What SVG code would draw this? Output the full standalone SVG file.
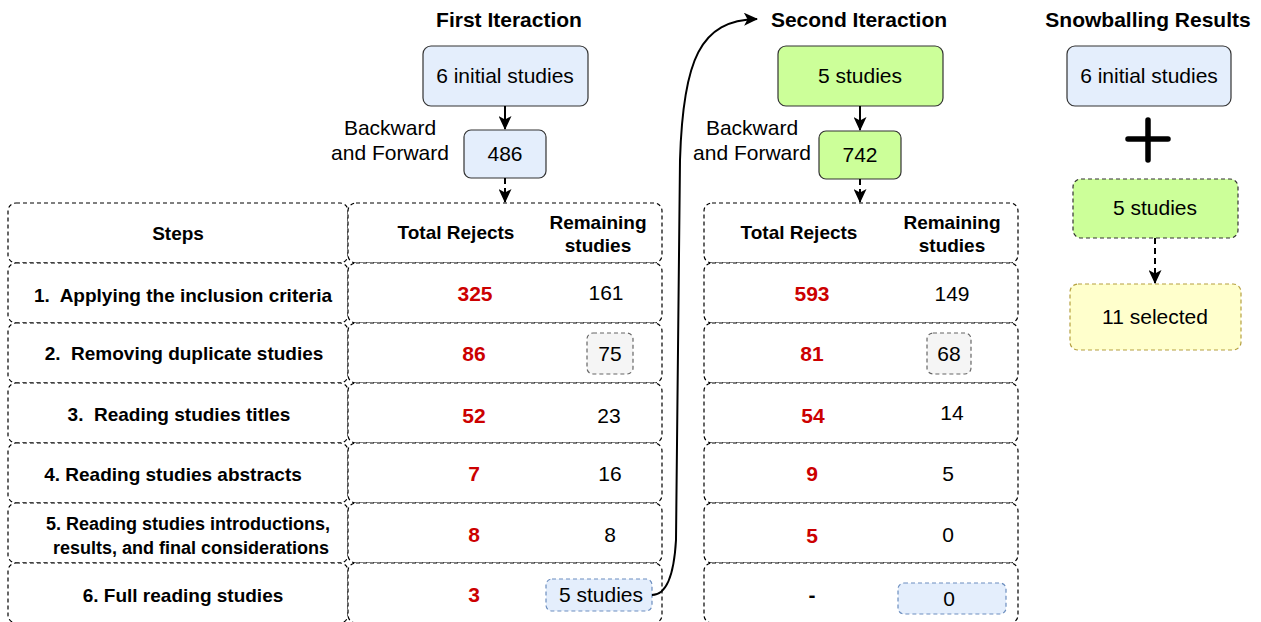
<svg xmlns="http://www.w3.org/2000/svg" width="1261" height="622" viewBox="0 0 1261 622">
  <defs>
    <marker id="arrow" markerUnits="userSpaceOnUse" markerWidth="15" markerHeight="13" refX="13" refY="6.5" orient="auto">
      <path d="M0,0 L14,6.5 L0,13 L3.5,6.5 Z" fill="#000"/>
    </marker>
    <style>
      text { font-family: "Liberation Sans", Arial, Helvetica, sans-serif; fill: #000; }
      .title { font-size: 21px; font-weight: bold; text-anchor: middle; }
      .lbl { font-size: 21px; text-anchor: middle; }
      .step { font-size: 19px; font-weight: bold; text-anchor: middle; }
      .hdr { font-size: 19px; font-weight: bold; text-anchor: middle; }
      .rej { font-size: 21px; font-weight: bold; fill: #cc0000; text-anchor: middle; }
      .num { font-size: 21px; text-anchor: middle; }
      .cell { fill: #fff; stroke: #000; stroke-width: 1.2; stroke-dasharray: 4 3; }
      .blue { fill: #e4eefc; stroke: #333; stroke-width: 1.2; }
      .green { fill: #ccff99; stroke: #333; stroke-width: 1.2; }
      .greenD { fill: #ccff99; stroke: #333; stroke-width: 1.2; stroke-dasharray: 4 3; }
      .yellowD { fill: #ffffcc; stroke: #b5a040; stroke-width: 1.2; stroke-dasharray: 4 3; }
      .greyD { fill: #f5f5f5; stroke: #666; stroke-width: 1.2; stroke-dasharray: 4 3; }
      .blueD { fill: #e4eefc; stroke: #6c8ebf; stroke-width: 1.2; stroke-dasharray: 4 3; }
      .edge { fill: none; stroke: #000; stroke-width: 2; }
      .edgeD { fill: none; stroke: #000; stroke-width: 2; stroke-dasharray: 6 4; }
    </style>
  </defs>

  <!-- column titles -->
  <text class="title" x="509" y="27">First Iteraction</text>
  <text class="title" x="859" y="27">Second Iteraction</text>
  <text class="title" x="1148" y="27">Snowballing Results</text>

  <!-- first iteration header nodes -->
  <g id="first-initial">
    <rect class="blue" x="423" y="46" width="165" height="60" rx="8"/>
    <text class="lbl" x="505" y="83">6 initial studies</text>
  </g>
  <g id="first-found">
    <rect class="blue" x="464" y="130" width="82" height="48" rx="7"/>
    <text class="lbl" x="505" y="161">486</text>
  </g>
  <g id="first-label">
    <text class="lbl" x="390" y="135">Backward</text>
    <text class="lbl" x="390" y="160">and Forward</text>
  </g>

  <!-- second iteration header nodes -->
  <g id="second-initial">
    <rect class="green" x="778" y="46" width="165" height="60" rx="8"/>
    <text class="lbl" x="860" y="83">5 studies</text>
  </g>
  <g id="second-found">
    <rect class="green" x="819" y="131" width="82" height="48" rx="7"/>
    <text class="lbl" x="860" y="162">742</text>
  </g>
  <g id="second-label">
    <text class="lbl" x="752" y="135">Backward</text>
    <text class="lbl" x="752" y="160">and Forward</text>
  </g>

  <!-- snowballing results -->
  <g id="result-initial">
    <rect class="blue" x="1067" y="46" width="164" height="60" rx="8"/>
    <text class="lbl" x="1149" y="83">6 initial studies</text>
  </g>
  <g id="result-plus">
    <path d="M1128,139 H1168 M1148,120 V160" stroke="#000" stroke-width="5.5" stroke-linecap="round" fill="none"/>
  </g>
  <g id="result-second">
    <rect class="greenD" x="1073" y="179" width="165" height="59" rx="8"/>
    <text class="lbl" x="1155" y="215">5 studies</text>
  </g>
  <g id="result-selected">
    <rect class="yellowD" x="1070" y="284" width="171" height="66" rx="8"/>
    <text class="lbl" x="1155" y="324">11 selected</text>
  </g>

  <!-- steps column -->
  <g id="steps">
    <rect class="cell" x="8" y="203" width="340" height="60" rx="8"/>
    <rect class="cell" x="8" y="263" width="340" height="60" rx="8"/>
    <rect class="cell" x="8" y="323" width="340" height="60" rx="8"/>
    <rect class="cell" x="8" y="383" width="340" height="60" rx="8"/>
    <rect class="cell" x="8" y="443" width="340" height="60" rx="8"/>
    <rect class="cell" x="8" y="503" width="340" height="60" rx="8"/>
    <rect class="cell" x="8" y="563" width="340" height="60" rx="8"/>
    <text class="step" x="178" y="240">Steps</text>
    <text class="step" x="183" y="302" xml:space="preserve">1.  Applying the inclusion criteria</text>
    <text class="step" x="184" y="360" xml:space="preserve">2.  Removing duplicate studies</text>
    <text class="step" x="179" y="421" xml:space="preserve">3.  Reading studies titles</text>
    <text class="step" x="173" y="481">4. Reading studies abstracts</text>
    <text class="step" x="188" y="530" style="font-size:18px">5. Reading studies introductions,</text>
    <text class="step" x="191" y="554" style="font-size:18px">results, and final considerations</text>
    <text class="step" x="183" y="602">6. Full reading studies</text>
  </g>

  <!-- first iteration table -->
  <g id="first-table">
    <rect class="cell" x="348" y="203" width="314" height="60" rx="8"/>
    <rect class="cell" x="348" y="263" width="314" height="60" rx="8"/>
    <rect class="cell" x="348" y="323" width="314" height="60" rx="8"/>
    <rect class="cell" x="348" y="383" width="314" height="60" rx="8"/>
    <rect class="cell" x="348" y="443" width="314" height="60" rx="8"/>
    <rect class="cell" x="348" y="503" width="314" height="60" rx="8"/>
    <rect class="cell" x="348" y="563" width="314" height="60" rx="8"/>
    <text class="hdr" x="456" y="239">Total Rejects</text>
    <text class="hdr" x="598" y="229">Remaining</text>
    <text class="hdr" x="598" y="252">studies</text>
    <text class="rej" x="475" y="301">325</text>
    <text class="num" x="606" y="300">161</text>
    <text class="rej" x="474" y="361">86</text>
    <rect class="greyD" x="587" y="333" width="46" height="41" rx="6"/>
    <text class="num" x="610" y="361">75</text>
    <text class="rej" x="474" y="423">52</text>
    <text class="num" x="609" y="423">23</text>
    <text class="rej" x="474" y="481">7</text>
    <text class="num" x="610" y="481">16</text>
    <text class="rej" x="474" y="542">8</text>
    <text class="num" x="610" y="542">8</text>
    <text class="rej" x="474" y="602">3</text>
    <rect class="blueD" x="546" y="579" width="106" height="32" rx="6"/>
    <text class="num" x="601" y="602">5 studies</text>
  </g>

  <!-- second iteration table -->
  <g id="second-table">
    <rect class="cell" x="704" y="203" width="314" height="60" rx="8"/>
    <rect class="cell" x="704" y="263" width="314" height="60" rx="8"/>
    <rect class="cell" x="704" y="323" width="314" height="60" rx="8"/>
    <rect class="cell" x="704" y="383" width="314" height="60" rx="8"/>
    <rect class="cell" x="704" y="443" width="314" height="60" rx="8"/>
    <rect class="cell" x="704" y="503" width="314" height="60" rx="8"/>
    <rect class="cell" x="704" y="563" width="314" height="60" rx="8"/>
    <text class="hdr" x="799" y="239">Total Rejects</text>
    <text class="hdr" x="952" y="229">Remaining</text>
    <text class="hdr" x="952" y="252">studies</text>
    <text class="rej" x="812" y="301">593</text>
    <text class="num" x="952" y="301">149</text>
    <text class="rej" x="812" y="361">81</text>
    <rect class="greyD" x="927" y="333" width="44" height="41" rx="6"/>
    <text class="num" x="949" y="361">68</text>
    <text class="rej" x="813" y="423">54</text>
    <text class="num" x="952" y="420">14</text>
    <text class="rej" x="812" y="481">9</text>
    <text class="num" x="948" y="481">5</text>
    <text class="rej" x="812" y="543">5</text>
    <text class="num" x="948" y="542">0</text>
    <text class="num" x="812" y="602" font-weight="bold">-</text>
    <rect class="blueD" x="898" y="583" width="108" height="31" rx="6"/>
    <text class="num" x="949" y="606">0</text>
  </g>

  <!-- connectors -->
  <g id="connectors">
    <line class="edge" x1="505" y1="106" x2="505" y2="129" marker-end="url(#arrow)"/>
    <line class="edgeD" x1="505" y1="178" x2="505" y2="202" marker-end="url(#arrow)"/>
    <line class="edge" x1="860" y1="106" x2="860" y2="130" marker-end="url(#arrow)"/>
    <line class="edgeD" x1="860" y1="179" x2="860" y2="202" marker-end="url(#arrow)"/>
    <line class="edgeD" x1="1155" y1="238" x2="1155" y2="283" marker-end="url(#arrow)"/>
    <path class="edge" d="M652,595 C666,595 674,575 676,540 L680,160 C683,60 700,20 757,19" marker-end="url(#arrow)"/>
  </g>
</svg>
